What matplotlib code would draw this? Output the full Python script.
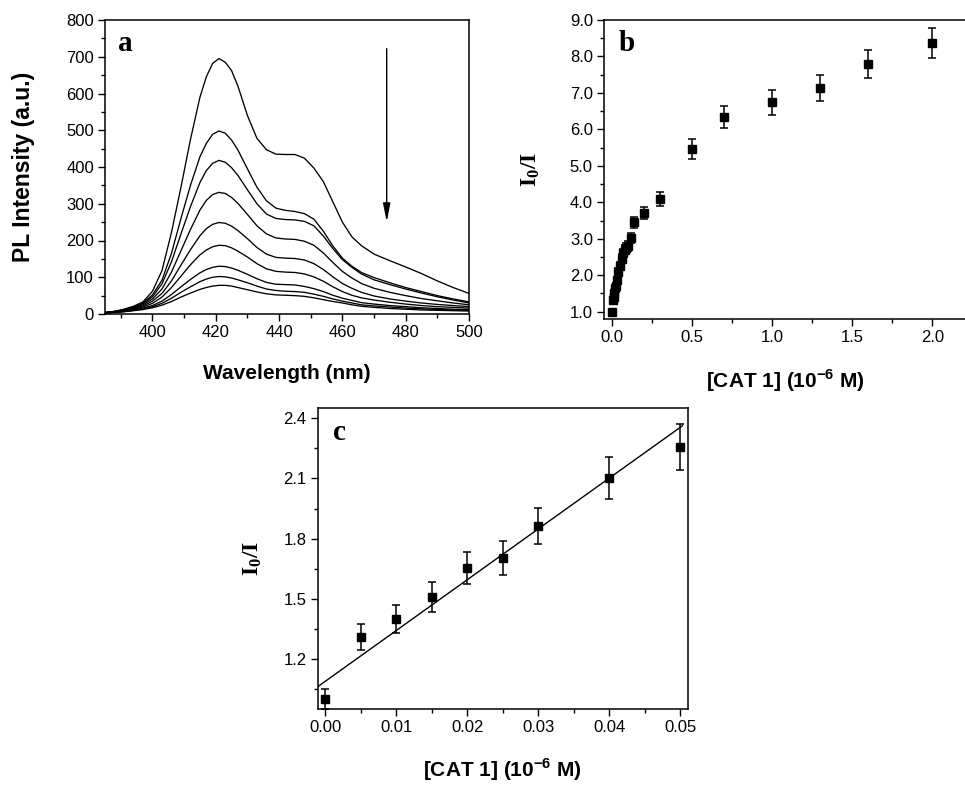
import matplotlib
matplotlib.use("Agg")
import matplotlib.pyplot as plt
import numpy as np
from matplotlib.ticker import MultipleLocator, FormatStrFormatter

plt.rcParams['font.family'] = ['Liberation Sans', 'DejaVu Sans']
plt.rcParams['mathtext.fontset'] = 'custom'
plt.rcParams['mathtext.rm'] = 'Liberation Serif:bold'
plt.rcParams['mathtext.bf'] = 'Liberation Serif:bold'
plt.rcParams['mathtext.sf'] = 'Liberation Sans:bold'

# ---------------- Panel a: PL spectra ----------------
wavelength = [385, 388, 391, 394, 397, 400, 403, 406, 409, 412, 415, 417, 419, 421,
              423, 425, 427, 430, 433, 436, 439, 442, 445, 448, 451, 454, 457, 460,
              463, 466, 470, 475, 480, 485, 490, 495, 500]
pl_1 = [4, 7, 13, 21, 33, 62, 118, 222, 345, 475, 590, 645, 682, 695,
        685, 662, 620, 540, 478, 447, 435, 434, 434, 424, 397, 360, 305, 250,
        210, 186, 163, 145, 128, 110, 90, 72, 56]
pl_2 = [4, 7, 12, 19, 30, 52, 92, 165, 260, 350, 428, 464, 489, 498,
        492, 473, 446, 395, 345, 308, 288, 282, 279, 273, 258, 225, 185, 152,
        130, 113, 99, 85, 72, 61, 50, 41, 33]
pl_3 = [4, 7, 11, 18, 28, 47, 82, 142, 218, 292, 358, 390, 410, 418,
        413, 398, 377, 338, 300, 272, 260, 257, 256, 252, 240, 212, 178, 148,
        127, 109, 93, 80, 68, 57, 47, 38, 30]
pl_4 = [4, 6, 10, 16, 25, 41, 68, 114, 172, 230, 283, 309, 325, 331,
        328, 317, 301, 271, 240, 218, 207, 204, 203, 198, 187, 166, 140, 116,
        98, 83, 70, 59, 50, 42, 36, 30, 25]
pl_5 = [3, 5, 9, 14, 22, 35, 56, 90, 133, 175, 213, 232, 244, 249,
        247, 239, 227, 205, 181, 163, 154, 152, 151, 147, 137, 121, 101, 83,
        70, 59, 49, 41, 35, 30, 26, 23, 20]
pl_6 = [3, 5, 8, 13, 19, 29, 46, 72, 103, 134, 161, 174, 183, 187,
        186, 180, 171, 155, 137, 123, 116, 114, 113, 109, 101, 89, 74, 61,
        51, 44, 38, 32, 27, 23, 20, 18, 16]
pl_7 = [3, 5, 7, 11, 16, 23, 35, 53, 74, 94, 112, 121, 127, 130,
        129, 125, 119, 108, 96, 86, 81, 80, 79, 75, 69, 61, 51, 43,
        37, 31, 27, 23, 20, 17, 15, 13, 12]
pl_8 = [3, 4, 7, 10, 14, 20, 29, 43, 59, 74, 88, 95, 100, 102,
        101, 98, 93, 85, 76, 68, 64, 62, 61, 59, 54, 48, 41, 35,
        30, 25, 22, 19, 16, 14, 12, 11, 10]
pl_9 = [3, 4, 6, 9, 12, 17, 24, 34, 46, 57, 67, 72, 76, 78,
        78, 76, 72, 66, 60, 55, 52, 51, 50, 48, 44, 39, 34, 30,
        25, 21, 18, 15, 13, 11, 10, 9, 8]
spectra = [pl_1, pl_2, pl_3, pl_4, pl_5, pl_6, pl_7, pl_8, pl_9]

# ---------------- Panel b: I0/I vs [CAT 1] ----------------
conc_b = [0, 0.005, 0.01, 0.015, 0.02, 0.025, 0.03, 0.04, 0.05, 0.06, 0.07,
          0.08, 0.09, 0.1, 0.12, 0.14, 0.2, 0.3, 0.5, 0.7, 1.0, 1.3, 1.6, 2.0]
ratio_b = [1.00, 1.31, 1.40, 1.51, 1.66, 1.71, 1.86, 2.10, 2.26, 2.45, 2.60,
           2.70, 2.75, 2.80, 3.02, 3.45, 3.71, 4.09, 5.47, 6.34, 6.74, 7.13, 7.80, 8.37]
err_b = [0.05, 0.06, 0.07, 0.07, 0.08, 0.08, 0.09, 0.1, 0.11, 0.12, 0.12,
         0.13, 0.13, 0.13, 0.14, 0.15, 0.17, 0.20, 0.27, 0.30, 0.34, 0.36, 0.39, 0.42]

# ---------------- Panel c: linear region ----------------
conc_c = [0, 0.005, 0.01, 0.015, 0.02, 0.025, 0.03, 0.04, 0.05]
ratio_c = [1.00, 1.31, 1.40, 1.51, 1.656, 1.706, 1.864, 2.101, 2.256]
err_c = [0.05, 0.065, 0.07, 0.075, 0.08, 0.085, 0.09, 0.105, 0.115]
fit_intercept = 1.09
fit_slope = 25.3
fit_range = [-0.0011, 0.0503]

fig = plt.figure(figsize=(9.65, 7.85), dpi=100)
W, H = 965, 785

def add_axes(l, t, r, b):
    return fig.add_axes([l / W, 1 - b / H, (r - l) / W, (b - t) / H])

tick_fs = 12
letter_font = dict(family='Liberation Serif', weight='bold', size=21)

def style(ax, right=True):
    for s in ['left', 'bottom', 'top', 'right']:
        ax.spines[s].set_linewidth(1.1)
    ax.spines['right'].set_visible(right)
    ax.tick_params(which='both', direction='out', top=False, right=False,
                   labelsize=tick_fs, width=1.0)
    ax.tick_params(which='major', length=5, pad=3)
    ax.tick_params(which='minor', length=3)

# Panel a
axa = add_axes(105, 20, 469, 314)
for sp in spectra:
    axa.plot(wavelength, sp, color='black', lw=0.95, solid_joinstyle='round')
axa.set_xlim(385, 500)
axa.set_ylim(0, 800)
axa.xaxis.set_major_locator(MultipleLocator(20))
axa.xaxis.set_minor_locator(MultipleLocator(10))
axa.yaxis.set_major_locator(MultipleLocator(100))
axa.yaxis.set_minor_locator(MultipleLocator(50))
style(axa)
axa.set_xlabel('Wavelength (nm)', fontsize=15, fontweight='bold', labelpad=17)
axa.set_ylabel('PL Intensity (a.u.)', fontsize=16.5, fontweight='bold', labelpad=22)
axa.text(0.035, 0.965, 'a', transform=axa.transAxes, va='top', ha='left', **letter_font)
axa.annotate('', xy=(474, 251), xytext=(474, 722),
             arrowprops=dict(arrowstyle='-|>,head_length=1.1,head_width=0.22',
                             color='black', lw=1.0, shrinkA=0, shrinkB=0))

# Panel b
axb = add_axes(604, 20, 966, 319)
axb.errorbar(conc_b, ratio_b, yerr=err_b, fmt='s', color='black', ms=5.2,
             capsize=2.8, elinewidth=1.1, capthick=1.1)
axb.set_xlim(-0.05, 2.21)
axb.set_ylim(0.8, 9.0)
axb.xaxis.set_major_locator(MultipleLocator(0.5))
axb.xaxis.set_minor_locator(MultipleLocator(0.25))
axb.yaxis.set_major_locator(MultipleLocator(1.0))
axb.yaxis.set_minor_locator(MultipleLocator(0.5))
axb.xaxis.set_major_formatter(FormatStrFormatter('%.1f'))
axb.yaxis.set_major_formatter(FormatStrFormatter('%.1f'))
style(axb, right=False)
axb.set_xlabel(r'[CAT 1] (10$^{\mathsf{-6}}$ M)', fontsize=15, fontweight='bold', labelpad=16)
axb.set_ylabel(r'$\mathrm{I_0/I}$', fontsize=17, labelpad=20)
axb.text(0.04, 0.965, 'b', transform=axb.transAxes, va='top', ha='left', **letter_font)

# Panel c
axc = add_axes(317.7, 408, 687.7, 709)
axc.errorbar(conc_c, ratio_c, yerr=err_c, fmt='s', color='black', ms=6.3,
             capsize=3.0, elinewidth=1.1, capthick=1.1)
fx = np.array(fit_range)
axc.plot(fx, fit_intercept + fit_slope * fx, color='black', lw=1.0)
axc.set_xlim(-0.00107, 0.05104)
axc.set_ylim(0.952, 2.451)
axc.xaxis.set_major_locator(MultipleLocator(0.01))
axc.xaxis.set_minor_locator(MultipleLocator(0.005))
axc.yaxis.set_major_locator(MultipleLocator(0.3))
axc.yaxis.set_minor_locator(MultipleLocator(0.15))
axc.xaxis.set_major_formatter(FormatStrFormatter('%.2f'))
axc.yaxis.set_major_formatter(FormatStrFormatter('%.1f'))
style(axc)
axc.set_xlabel(r'[CAT 1] (10$^{\mathsf{-6}}$ M)', fontsize=15, fontweight='bold', labelpad=15)
axc.set_ylabel(r'$\mathrm{I_0/I}$', fontsize=17, labelpad=14)
axc.text(0.04, 0.965, 'c', transform=axc.transAxes, va='top', ha='left', **letter_font)

fig.savefig('out.png', dpi=100)
